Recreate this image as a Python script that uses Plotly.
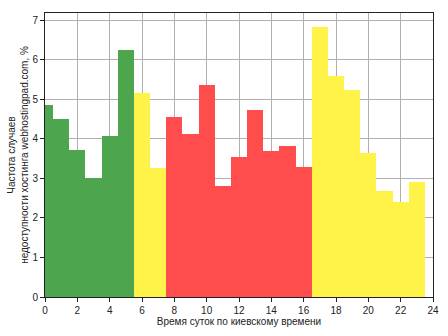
import plotly.graph_objects as go

# Hourly share of downtime events (Kyiv time), percent
hours = list(range(24))
values = [4.86, 4.51, 3.71, 3.00, 4.08, 6.25, 5.17, 3.27,
          4.54, 4.13, 5.37, 2.80, 3.55, 4.74, 3.68, 3.83,
          3.28, 6.83, 5.60, 5.24, 3.63, 2.67, 2.39, 2.90]

GREEN = "rgb(77,166,77)"
YELLOW = "rgb(255,242,72)"
RED = "rgb(255,77,77)"

def hour_color(h):
    if h <= 5:
        return GREEN
    if h <= 7 or h >= 17:
        return YELLOW
    return RED

colors = [hour_color(h) for h in hours]

fig = go.Figure(
    go.Bar(
        x=hours,
        y=values,
        width=1,
        marker=dict(color=colors, line=dict(width=0)),
        hoverinfo="x+y",
    )
)

font = dict(family="Liberation Sans, Arial, sans-serif", size=10, color="#222")

axis_common = dict(
    showline=True,
    linecolor="#222",
    linewidth=1,
    mirror=True,
    ticks="outside",
    ticklen=4,
    tickcolor="#222",
    showgrid=True,
    gridcolor="#b0b0b0",
    gridwidth=1,
    zeroline=False,
    layer="above traces",
    tickfont=font,
    automargin=False,
)

fig.update_layout(
    width=448,
    height=336,
    margin=dict(l=45, r=15, t=13, b=39),
    paper_bgcolor="white",
    plot_bgcolor="white",
    bargap=0,
    showlegend=False,
    font=font,
    xaxis=dict(
        range=[0, 24],
        tickmode="array",
        tickvals=list(range(0, 25, 2)),
        title=dict(text="Время суток по киевскому времени", font=dict(size=10), standoff=1),
        **axis_common,
    ),
    yaxis=dict(
        range=[0, 7.18],
        tickmode="array",
        tickvals=list(range(0, 8)),
        **axis_common,
    ),
    annotations=[
        dict(
            text="Частота случаев<br>недоступности хостинга webhostingpad.com, %",
            textangle=-90,
            xref="paper", yref="paper",
            x=-0.07, y=0.5,
            xanchor="center", yanchor="middle",
            showarrow=False,
            font=dict(size=10, family=font["family"], color="#222"),
        )
    ],
)

fig.write_html("out.html")
